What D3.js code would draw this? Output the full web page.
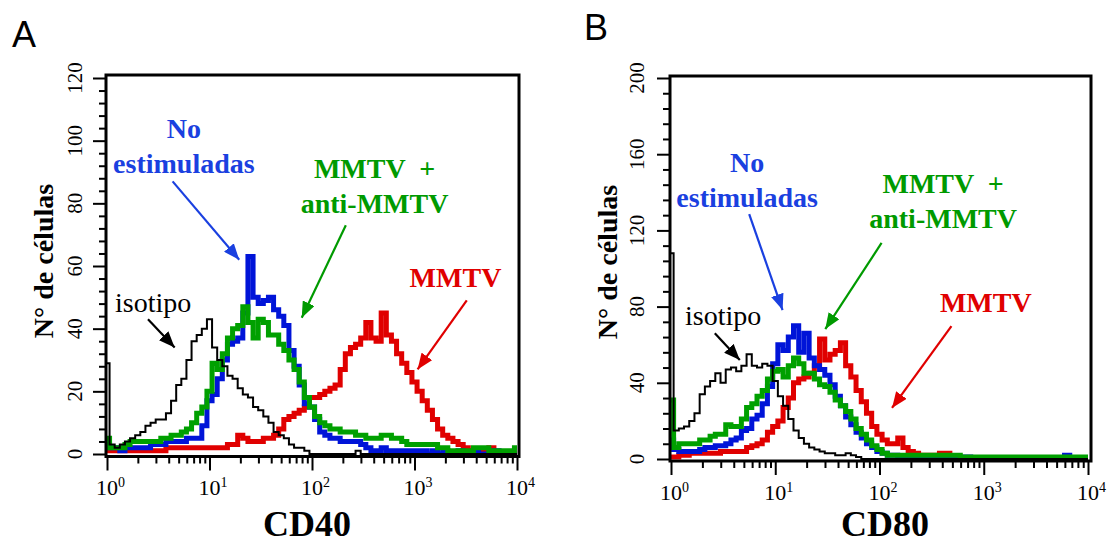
<!DOCTYPE html>
<html>
<head>
<meta charset="utf-8">
<script src="https://cdn.jsdelivr.net/npm/d3@7"></script>
<style>
body { margin: 0; background: #fff; }
text { font-family: "Liberation Serif", "Times New Roman", serif; }
</style>
</head>
<body>
<script>
// canales del citómetro, en log10 de la fluorescencia (10^0 .. 10^4)
var channels = [0, 0.05, 0.1, 0.15, 0.2, 0.25, 0.3, 0.35, 0.4, 0.45,
  0.5, 0.55, 0.6, 0.65, 0.7, 0.75, 0.8, 0.85, 0.9, 0.95,
  1, 1.05, 1.1, 1.15, 1.2, 1.25, 1.3, 1.35, 1.4, 1.45,
  1.5, 1.55, 1.6, 1.65, 1.7, 1.75, 1.8, 1.85, 1.9, 1.95,
  2, 2.05, 2.1, 2.15, 2.2, 2.25, 2.3, 2.35, 2.4, 2.45,
  2.5, 2.55, 2.6, 2.65, 2.7, 2.75, 2.8, 2.85, 2.9, 2.95,
  3, 3.05, 3.1, 3.15, 3.2, 3.25, 3.3, 3.35, 3.4, 3.45,
  3.5, 3.55, 3.6, 3.65, 3.7, 3.75, 3.8, 3.85, 3.9, 3.95,
  4];

// CD40
var isoA = [29,3,2,3,4,5,6,7,9,10, 11,11,13,17,22,24,30,36,38,40, 43,34,30,28,25,24,21,19,18,15,
  14,12,10,7,6,5,3,2,2,1, 0,0,0,0,0,0,0,0,0,1, 0,0,0,0,0,0,0,0,0,0, 0,0,0,0,0,0,0,0,0,0,
  0,0,0,0,0,0,0,0,0,0, 0];
var noEstA = [3,2,2,1,2,2,2,2,2,3, 3,3,4,4,4,4,5,5,5,9, 17,19,24,30,35,36,37,45,63,50,
  48,49,50,46,44,41,33,28,22,16, 15,11,7,6,5,5,4,4,4,4, 3,2,1,1,2,1,1,1,1,1, 1,1,1,0,1,0,1,0,0,1,
  0,0,1,0,0,0,1,0,0,0, 0];
var mmtvA = [1,1,1,1,1,1,1,1,1,1, 1,1,2,2,2,2,2,2,2,2, 2,2,2,2,3,3,6,5,4,4,
  4,5,5,6,8,11,12,13,14,15, 18,18,19,20,21,22,27,32,34,35, 37,42,37,36,45,38,36,32,29,26,
  23,20,17,14,11,8,6,5,4,3, 2,1,1,1,1,2,0,0,0,0, 0];
var antiA = [5,2,2,2,3,4,4,4,4,4, 4,5,5,6,6,7,8,10,13,15, 20,29,27,32,37,40,41,47,42,37,
  43,42,38,38,35,33,30,27,23,18, 15,12,10,9,8,8,7,7,7,6, 6,5,5,5,6,6,5,5,4,3,
  3,3,3,3,3,2,2,1,1,1, 1,1,2,2,2,1,1,1,1,1, 2];

// CD80
var isoB = [108,15,16,17,20,24,34,38,41,45, 40,47,48,46,49,55,49,48,50,49, 41,33,28,21,15,11,8,6,5,4,
  3,3,2,2,3,2,1,0,0,0, 0,0,0,0,0,0,0,0,0,0, 0,0,0,0,0,0,0,0,0,0, 0,0,0,0,0,0,0,0,0,0,
  0,0,0,0,0,0,0,0,0,0, 0];
var noEstB = [10,5,4,4,4,4,5,6,6,7, 7,8,10,11,15,16,21,23,29,38, 50,60,57,64,70,56,66,53,49,47,
  44,39,33,28,22,18,14,11,8,6, 4,3,2,2,1,1,1,1,0,1, 0,0,1,0,0,0,0,1,0,0, 0,0,0,0,0,0,0,0,0,0,
  0,0,0,0,0,0,2,0,0,0, 0];
var mmtvB = [1,1,2,2,3,3,3,3,3,3, 4,4,4,4,4,6,7,8,10,14, 17,20,27,32,40,42,43,45,49,63,
  52,55,57,61,49,43,36,30,24,17, 13,10,8,8,11,6,4,3,2,2, 2,2,3,3,1,1,0,0,0,0, 0,0,0,0,0,0,0,0,0,0,
  0,0,0,0,0,0,0,0,0,0, 0];
var antiB = [31,6,8,8,8,8,10,10,12,13, 13,18,17,17,21,27,29,33,36,42, 46,47,43,49,53,50,45,45,42,39,
  38,35,31,28,25,21,16,13,10,7, 5,3,2,2,2,2,2,2,2,2, 2,2,2,2,2,2,1,1,1,1, 1,1,1,1,1,1,1,1,1,1,
  1,1,1,1,1,1,1,1,1,1, 1];

var decades = [1, 10, 100, 1000, 10000];
var decadeExp = ["0", "1", "2", "3", "4"];
var minorX = [2,3,4,5,6,7,8,9, 20,30,40,50,60,70,80,90, 200,300,400,500,600,700,800,900,
  2000,3000,4000,5000,6000,7000,8000,9000];
var yTicksA = [0, 20, 40, 60, 80, 100, 120];
var yTicksB = [0, 40, 80, 120, 160, 200];

var lineColor = { iso: "#000000", no: "#0014d8", mmtv: "#e00000", anti: "#00a000" };
var noteColor = { iso: "#000000", no: "#1a40e0", mmtv: "#e00000", anti: "#009a00" };

var width = 1114, height = 545;

var svg = d3.select("body").append("svg")
    .attr("width", width)
    .attr("height", height);

var defs = svg.append("defs");
Object.keys(noteColor).forEach(function(k) {
    defs.append("marker")
        .attr("id", "arrow-" + k)
        .attr("viewBox", "0 -6.5 16 13")
        .attr("refX", 16)
        .attr("refY", 0)
        .attr("markerWidth", 16)
        .attr("markerHeight", 13)
        .attr("markerUnits", "userSpaceOnUse")
        .attr("orient", "auto")
        .append("path")
        .attr("d", "M0,-6.5L16,0L0,6.5Z")
        .style("fill", noteColor[k]);
});

var panels = [
    {
        letter: "A", letterX: 12, letterY: 47,
        left: 107, right: 517, base: 454, top: 78, yMax: 120, yTicks: yTicksA, yMinor: 4,
        frameTop: 75, frameBottom: 456.5, frameRight: 519,
        tickLabelX: 82, titleX: 53, titleY: 261,
        xLabelY: 495, xTitle: "CD40", xTitleX: 307, xTitleY: 536,
        series: [
            { key: "mmtv", values: mmtvA },
            { key: "no", values: noEstA },
            { key: "anti", values: antiA },
            { key: "iso", values: isoA }
        ],
        notes: [
            { key: "no", lines: ["No", "estimuladas"], c: 0.75, v: 101, bold: true },
            { key: "anti", lines: ["MMTV  +", "anti-MMTV"], c: 2.61, v: 88, bold: true },
            { key: "mmtv", lines: ["MMTV"], c: 3.40, v: 53.4, bold: true },
            { key: "iso", lines: ["isotipo"], c: 0.45, v: 45.4, bold: false }
        ],
        arrows: [
            { key: "no", from: [0.64, 87], to: [1.29, 62] },
            { key: "anti", from: [2.33, 73], to: [1.90, 43.5] },
            { key: "mmtv", from: [3.51, 49], to: [3.03, 27] },
            { key: "iso", from: [0.40, 43], to: [0.66, 34] }
        ]
    },
    {
        letter: "B", letterX: 584, letterY: 40,
        left: 671, right: 1088, base: 459, top: 78, yMax: 200, yTicks: yTicksB, yMinor: 8,
        frameTop: 76, frameBottom: 461, frameRight: 1091,
        tickLabelX: 644, titleX: 617, titleY: 262,
        xLabelY: 500, xTitle: "CD80", xTitleX: 885, xTitleY: 536,
        series: [
            { key: "mmtv", values: mmtvB },
            { key: "no", values: noEstB },
            { key: "anti", values: antiB },
            { key: "iso", values: isoB }
        ],
        notes: [
            { key: "no", lines: ["No", "estimuladas"], c: 0.73, v: 150.7, bold: true },
            { key: "anti", lines: ["MMTV  +", "anti-MMTV"], c: 2.61, v: 139.6, bold: true },
            { key: "mmtv", lines: ["MMTV"], c: 3.02, v: 77, bold: true },
            { key: "iso", lines: ["isotipo"], c: 0.50, v: 70.3, bold: false }
        ],
        arrows: [
            { key: "no", from: [0.75, 128.6], to: [1.07, 78.2] },
            { key: "anti", from: [2.02, 113.4], to: [1.48, 68.2] },
            { key: "mmtv", from: [2.69, 69.8], to: [2.12, 26.8] },
            { key: "iso", from: [0.42, 66], to: [0.66, 52] }
        ]
    }
];

panels.forEach(drawPanel);

function drawPanel(p) {
    var g = svg.append("g");

    var x = d3.scaleLog().domain([1, 10000]).range([p.left, p.right]);
    var y = d3.scaleLinear().domain([0, p.yMax]).range([p.base, p.top]);
    var cx = function(c) { return x(Math.pow(10, c)); };

    // histogramas
    var line = d3.line()
        .x(function(d) { return cx(d[0]); })
        .y(function(d) { return y(d[1]); })
        .curve(d3.curveStep);

    p.series.forEach(function(s) {
        g.append("path")
            .datum(channels.map(function(c, i) { return [c, s.values[i]]; }))
            .attr("d", line)
            .style("fill", "none")
            .style("stroke", lineColor[s.key])
            .style("stroke-width", s.key == "iso" ? 2 : 5);
    });

    // marco
    var frameLeft = p.left - 1;
    g.append("rect")
        .attr("x", frameLeft)
        .attr("y", p.frameTop)
        .attr("width", p.frameRight - frameLeft)
        .attr("height", p.frameBottom - p.frameTop)
        .style("fill", "none")
        .style("stroke", "#000")
        .style("stroke-width", 3);

    // eje Y
    var minorY = d3.range(0, p.yMax + 0.01, p.yMinor).filter(function(v) { return p.yTicks.indexOf(v) < 0; });
    var yMajor = g.append("g").attr("transform", "translate(" + (frameLeft - 1) + ",0)")
        .call(d3.axisLeft(y).tickValues(p.yTicks).tickSize(12).tickFormat(""));
    var yMin = g.append("g").attr("transform", "translate(" + (frameLeft - 1) + ",0)")
        .call(d3.axisLeft(y).tickValues(minorY).tickSize(6).tickFormat(""));

    // eje X
    var xMajor = g.append("g").attr("transform", "translate(0," + (p.frameBottom + 1) + ")")
        .call(d3.axisBottom(x).tickValues(decades).tickSize(13).tickFormat(""));
    var xMin = g.append("g").attr("transform", "translate(0," + (p.frameBottom + 1) + ")")
        .call(d3.axisBottom(x).tickValues(minorX).tickSize(6).tickFormat(""));

    [yMajor, yMin, xMajor, xMin].forEach(function(a) {
        a.select(".domain").remove();
        a.selectAll("line").style("stroke", "#000").style("stroke-width", 2);
    });

    // etiquetas Y (giradas)
    g.selectAll(".ylab")
        .data(p.yTicks)
        .enter().append("text")
        .attr("class", "ylab")
        .attr("transform", function(d) { return "translate(" + p.tickLabelX + "," + y(d) + ") rotate(-90)"; })
        .style("text-anchor", "middle")
        .style("font-size", "21px")
        .text(function(d) { return d; });

    // etiquetas X con superíndice
    decades.forEach(function(v, i) {
        var t = g.append("text")
            .attr("x", x(v) - 11)
            .attr("y", p.xLabelY)
            .style("font-size", "22px")
            .text("10");
        t.append("tspan")
            .attr("dy", -8)
            .style("font-size", "14px")
            .text(decadeExp[i]);
    });

    g.append("text")
        .attr("transform", "translate(" + p.titleX + "," + p.titleY + ") rotate(-90)")
        .style("text-anchor", "middle")
        .style("font-size", "28px")
        .style("font-weight", "bold")
        .text("N° de células");

    g.append("text")
        .attr("x", p.xTitleX)
        .attr("y", p.xTitleY)
        .style("text-anchor", "middle")
        .style("font-size", "36px")
        .style("font-weight", "bold")
        .text(p.xTitle);

    g.append("text")
        .attr("x", p.letterX)
        .attr("y", p.letterY)
        .style("font-family", "'Liberation Sans', Arial, sans-serif")
        .style("font-size", "36px")
        .text(p.letter);

    // anotaciones
    p.notes.forEach(function(n) {
        var t = g.append("text")
            .attr("x", cx(n.c))
            .attr("y", y(n.v))
            .style("text-anchor", "middle")
            .style("font-size", "28px")
            .style("font-weight", n.bold ? "bold" : "normal")
            .style("white-space", "pre")
            .style("fill", noteColor[n.key]);
        n.lines.forEach(function(l, i) {
            t.append("tspan")
                .attr("x", cx(n.c))
                .attr("dy", i ? 35 : 0)
                .text(l);
        });
    });

    p.arrows.forEach(function(a) {
        g.append("line")
            .attr("x1", cx(a.from[0]))
            .attr("y1", y(a.from[1]))
            .attr("x2", cx(a.to[0]))
            .attr("y2", y(a.to[1]))
            .style("stroke", noteColor[a.key])
            .style("stroke-width", 2.2)
            .attr("marker-end", "url(#arrow-" + a.key + ")");
    });
}
</script>
</body>
</html>
